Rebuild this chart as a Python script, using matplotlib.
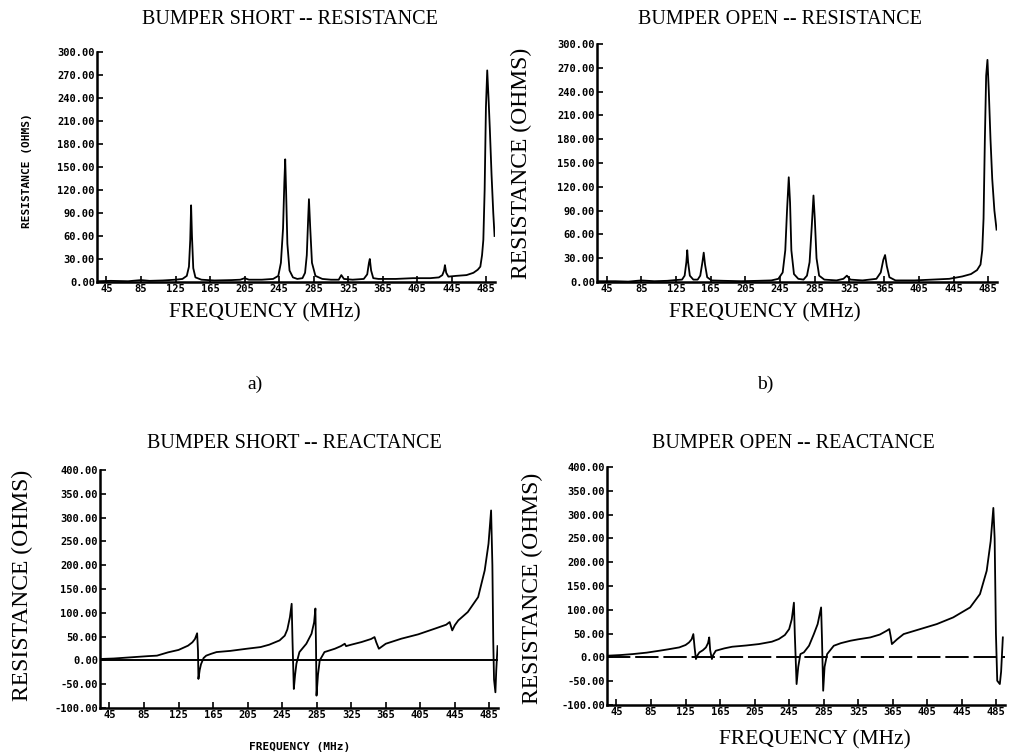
import matplotlib
matplotlib.use("Agg")
import matplotlib.pyplot as plt

# ---------------- data ----------------
freq_ticks = [45, 85, 125, 165, 205, 245, 285, 325, 365, 405, 445, 485]
res_ticks = [0, 30, 60, 90, 120, 150, 180, 210, 240, 270, 300]
reac_ticks = [-100, -50, 0, 50, 100, 150, 200, 250, 300, 350, 400]

# (frequency MHz, ohms)
short_resistance = [
    (34, 1), (50, 1.5), (70, 1), (85, 2.5), (95, 1.5), (110, 2), (125, 3), (133, 4),
    (138, 8), (140.5, 20), (142, 55), (143, 100), (144, 60), (145.5, 18), (148, 6),
    (155, 3), (170, 2), (190, 2.5), (200, 3), (205, 5), (210, 3), (225, 3), (238, 4),
    (244, 8), (247, 25), (249.5, 70), (251, 130), (252, 160), (253, 120), (254.5, 50),
    (257, 15), (261, 6), (266, 4), (272, 5), (275, 12), (277, 35), (278.5, 80),
    (279.5, 108), (281, 70), (283, 25), (287, 8), (295, 4), (305, 3), (314, 3),
    (317, 9), (320, 4), (330, 3), (343, 4), (347, 10), (349, 25), (350, 30),
    (351.5, 15), (354, 5), (360, 4), (380, 4), (400, 5), (420, 5), (430, 6),
    (434, 9), (436, 15), (437, 22), (438.5, 12), (441, 7), (450, 8), (462, 9),
    (470, 12), (475, 16), (478, 20), (480, 35), (481.5, 55), (483, 120),
    (484.5, 228), (486, 276), (487.5, 240), (489, 200), (491, 140), (493, 90),
    (494.5, 60),
]

open_resistance = [
    (34, 1), (55, 1), (70, 0.5), (85, 2), (100, 1), (115, 1.5), (125, 2.5), (132, 3),
    (135, 8), (137, 25), (138, 40), (139, 25), (141, 8), (145, 3), (150, 3), (153, 8),
    (155.5, 25), (157, 37), (158.5, 22), (161, 6), (166, 2), (180, 1.5), (200, 1),
    (220, 1.5), (235, 2), (243, 4), (248, 12), (251, 40), (253, 90), (255, 132),
    (256.5, 100), (258, 40), (261, 10), (266, 4), (272, 3), (276, 8), (279, 25),
    (281.5, 70), (283.5, 109), (285, 80), (287, 30), (290, 8), (296, 3), (310, 2),
    (318, 4), (322, 8), (326, 3), (340, 2), (356, 4), (361, 12), (364, 28), (366, 34),
    (368, 20), (371, 6), (378, 2), (400, 2), (420, 3), (440, 4), (455, 7), (465, 10),
    (472, 15), (476, 22), (478, 40), (479.5, 80), (481, 179), (482.5, 260), (484, 280),
    (485.5, 242), (487.5, 180), (489.5, 130), (492, 90), (494.5, 66),
]

short_reactance = [
    (35, 3), (50, 4), (74, 7), (90, 9), (100, 10), (113, 17), (125, 22), (136, 31),
    (141, 38), (144, 45), (146.5, 57), (147.5, 20), (148, -39), (149.5, -20),
    (151, -8), (154, 5), (157, 10), (163, 14), (169, 17.5), (185, 20), (204, 24.5),
    (220, 28), (230, 33), (242, 42), (248, 52), (251, 65), (254, 91), (256, 119),
    (257, 40), (258.5, -60), (260, -30), (261.5, -7), (265, 17.5), (273, 35),
    (279, 56), (282, 80), (283.5, 109), (284.2, 30), (284.8, -74), (286.5, -30),
    (288.5, 0), (294, 17.5), (306, 24.5), (313, 30), (317.5, 35), (319, 30),
    (325, 33), (337, 38.6), (348, 45), (352, 49), (354, 38), (357, 24.5), (365, 35),
    (383, 45.6), (402.5, 54.7), (421.7, 66.6), (435, 75), (439, 80.6), (442, 63),
    (445, 74), (449, 84), (460, 101.6), (472, 133), (479.6, 189), (484, 245),
    (487, 315), (488.5, 200), (489.5, 40), (490.4, -40), (492, -67), (493, -20),
    (494.5, 30),
]

open_reactance = [
    (34, 3.5), (50, 5), (64, 7), (80, 10), (94.6, 14), (105, 17), (117.7, 21),
    (125, 26), (129, 31.4), (132, 38), (134, 49), (135.5, 20), (137, -3.5), (139, 5),
    (141, 10.5), (145, 15), (148.6, 21), (151, 30), (152.4, 42), (153.5, 15),
    (155.5, -3.5), (157, 5), (160, 14), (170, 19), (179, 22.4), (195, 25), (210, 28),
    (225, 33), (233, 38.5), (240, 47), (245, 59.5), (248, 80), (250.5, 115),
    (251.5, 50), (253.6, -56), (255.5, -20), (258, 7), (262, 10.5), (268, 24.5),
    (273.6, 49), (278, 70), (282, 105), (283, 40), (284.4, -70), (286, -20), (289, 7),
    (296.7, 24.5), (305, 30), (316, 35), (325, 38), (339, 42), (350, 48), (358, 56),
    (361, 59.5), (362.5, 45), (364, 28), (370, 38), (377.6, 49), (396.8, 59.5),
    (416, 70), (435, 84), (454.6, 105), (466, 133), (473.8, 182), (478.4, 244),
    (481.5, 314), (483, 250), (484.5, 50), (486, -49), (489, -56), (490.5, -30),
    (492.5, 42),
]

titles = ["BUMPER SHORT -- RESISTANCE", "BUMPER OPEN -- RESISTANCE",
          "BUMPER SHORT -- REACTANCE", "BUMPER OPEN -- REACTANCE"]
ylabel_text = "RESISTANCE (OHMS)"
xlabel_text = "FREQUENCY (MHz)"

# ---------------- figure ----------------
W, H = 1020, 754
fig = plt.figure(figsize=(W / 100, H / 100), dpi=100)
fig.patch.set_facecolor("white")

SERIF = ["Liberation Serif", "DejaVu Serif"]
MONO = ["DejaVu Sans Mono"]


def px_rect(left, top, right, bottom):
    return [left / W, 1 - bottom / H, (right - left) / W, (bottom - top) / H]


def ftext(x, y, s, **kw):
    fig.text(x / W, 1 - y / H, s, **kw)


def style_axes(ax, yticks, ylim):
    ax.set_xlim(34, 495)
    ax.set_ylim(*ylim)
    ax.set_xticks(freq_ticks)
    ax.set_xticklabels([str(t) for t in freq_ticks])
    ax.set_yticks(yticks)
    ax.set_yticklabels(["%.2f" % t for t in yticks])
    for s in ("top", "right"):
        ax.spines[s].set_visible(False)
    for s in ("left", "bottom"):
        ax.spines[s].set_linewidth(1.8)
    ax.tick_params(direction="in", length=4, width=1.2, pad=1.5)
    for lab in ax.get_xticklabels() + ax.get_yticklabels():
        lab.set_family(MONO)
        lab.set_fontweight("bold")
        lab.set_fontsize(7.5)


panels = [
    (px_rect(97, 52, 495, 282), short_resistance, res_ticks, (0, 300), None),
    (px_rect(597, 44, 997, 282), open_resistance, res_ticks, (0, 300), None),
    (px_rect(100, 470, 498, 708), short_reactance, reac_ticks, (-100, 400), "solid"),
    (px_rect(607, 467, 1005, 705), open_reactance, reac_ticks, (-100, 400), "dashed"),
]

for rect, series, yt, yl, zero in panels:
    ax = fig.add_axes(rect)
    f = [p[0] for p in series]
    v = [p[1] for p in series]
    if zero == "solid":
        ax.axhline(0, color="black", lw=1.4)
    elif zero == "dashed":
        ax.axhline(0, color="black", lw=1.4, dashes=(12, 2.5))
    ax.plot(f, v, color="black", lw=1.3)
    style_axes(ax, yt, yl)

# titles
ftext(290, 20, titles[0], family=SERIF, fontsize=14.5, ha="center", va="center")
ftext(780, 20, titles[1], family=SERIF, fontsize=14.5, ha="center", va="center")
ftext(294, 443, titles[2], family=SERIF, fontsize=14.5, ha="center", va="center")
ftext(793, 443, titles[3], family=SERIF, fontsize=14.5, ha="center", va="center")

# y labels
ftext(27, 171, ylabel_text, family=MONO, fontweight="bold", fontsize=8,
      rotation=90, ha="center", va="center")
ftext(521, 163, ylabel_text, family=SERIF, fontsize=17, rotation=90,
      ha="center", va="center")
ftext(22, 585, ylabel_text, family=SERIF, fontsize=17, rotation=90,
      ha="center", va="center")
ftext(532, 588, ylabel_text, family=SERIF, fontsize=17, rotation=90,
      ha="center", va="center")

# x labels
ftext(265, 313, xlabel_text, family=SERIF, fontsize=15.5, ha="center", va="center")
ftext(765, 313, xlabel_text, family=SERIF, fontsize=15.5, ha="center", va="center")
ftext(300, 747, xlabel_text, family=MONO, fontweight="bold", fontsize=8,
      ha="center", va="center")
ftext(815, 740, xlabel_text, family=SERIF, fontsize=15.5, ha="center", va="center")

# panel letters
ftext(255, 384, "a)", family=SERIF, fontsize=14, ha="center", va="center")
ftext(765, 384, "b)", family=SERIF, fontsize=14, ha="center", va="center")

fig.savefig("out.png", dpi=100, facecolor="white")
